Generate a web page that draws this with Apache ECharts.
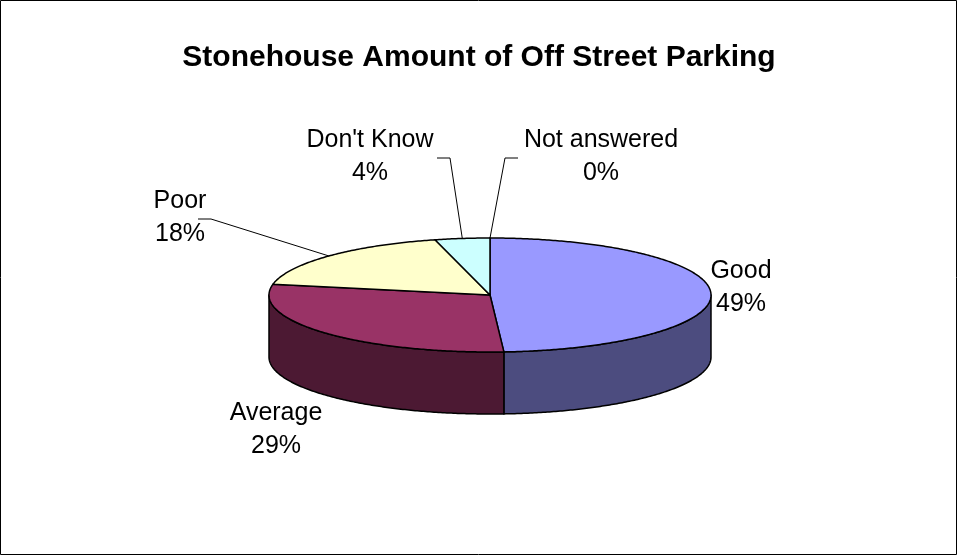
<!DOCTYPE html>
<html>
<head>
<meta charset="utf-8">
<script src="https://cdn.jsdelivr.net/npm/echarts@6/dist/echarts.min.js"></script>
<style>
  html, body { margin: 0; padding: 0; background: #ffffff; }
  #chart { width: 958px; height: 556px; }
</style>
</head>
<body>
<div id="chart"></div>
<script>
// Survey answers and their shares (percent)
const categories = ['Good', 'Average', 'Poor', "Don't Know", 'Not answered'];
const percentages = [49, 29, 18, 4, 0];

// Face colours (top) and darker wall colours (side)
const topColors = ['#9999FF', '#993366', '#FFFFCC', '#CCFFFF', '#FFFF99'];
const sideColors = ['#4C4C7F', '#4C1933', '#7F7F66', '#667F7F', '#7F7F4C'];

// Geometry of the tilted disc
const disc = { cx: 490, cy: 295, rx: 221, ry: 57, depth: 62 };

// Label centres and leader elbows
const labelPlacement = [
  { x: 741, y: 288 },
  { x: 276, y: 430 },
  { x: 180, y: 218, leader: [[198, 219], [211, 219]] },
  { x: 370, y: 157, leader: [[437, 158], [450, 158]] },
  { x: 601, y: 157, leader: [[518, 158], [505, 158]] }
];

const total = percentages.reduce((a, b) => a + b, 0);
const starts = [];
percentages.reduce((acc, v, i) => { starts[i] = acc; return acc + v; }, 0);

function toRad(v) { return v / total * Math.PI * 2; }
function rim(theta, dy) {
  return [disc.cx + disc.rx * Math.sin(theta), disc.cy - disc.ry * Math.cos(theta) + (dy || 0)];
}
function arcPoints(a1, a2, dy) {
  const pts = [];
  const steps = Math.max(2, Math.ceil(Math.abs(a2 - a1) / 0.01));
  for (let k = 0; k <= steps; k++) pts.push(rim(a1 + (a2 - a1) * k / steps, dy));
  return pts;
}

function renderItem(params, api) {
  const i = params.dataIndex;
  const v = api.value(0);
  const a1 = toRad(starts[i]);
  const a2 = toRad(starts[i] + v);
  const children = [];
  const stroke = { stroke: '#000', lineWidth: 1.5, lineJoin: 'round' };

  // front wall (visible between the right and left extremes of the ellipse)
  const s1 = Math.max(a1, Math.PI / 2);
  const s2 = Math.min(a2, Math.PI * 1.5);
  if (v > 0 && s2 > s1) {
    const top = arcPoints(s1, s2, 0);
    const bottom = arcPoints(s2, s1, disc.depth);
    children.push({
      type: 'polygon',
      shape: { points: top.concat(bottom) },
      style: Object.assign({ fill: sideColors[i] }, stroke)
    });
  }

  // top face
  if (v > 0) {
    const pts = [[disc.cx, disc.cy]].concat(arcPoints(a1, a2, 0));
    children.push({
      type: 'polygon',
      shape: { points: pts },
      style: Object.assign({ fill: topColors[i] }, stroke)
    });
  }

  // leader line to the middle of the slice rim
  const place = labelPlacement[i];
  if (place.leader) {
    const mid = rim((a1 + a2) / 2, 0);
    children.push({
      type: 'polyline',
      shape: { points: place.leader.concat([mid]) },
      style: { stroke: '#000', lineWidth: 1, fill: null },
      z2: 5
    });
  }

  // category and percentage label
  children.push({
    type: 'text',
    z2: 10,
    style: {
      x: place.x,
      y: place.y,
      text: categories[i] + '\n' + v + '%',
      fill: '#000',
      font: '25px "Liberation Sans", Arial, sans-serif',
      lineHeight: 33,
      align: 'center',
      verticalAlign: 'middle',
      textAlign: 'center',
      textVerticalAlign: 'middle'
    }
  });

  return { type: 'group', children: children };
}

const chart = echarts.init(document.getElementById('chart'), null, { renderer: 'canvas' });
chart.setOption({
  animation: false,
  backgroundColor: '#ffffff',
  title: {
    text: 'Stonehouse Amount of Off Street Parking',
    left: 'center',
    top: 38,
    textStyle: {
      fontFamily: '"Liberation Sans", Arial, sans-serif',
      fontWeight: 'bold',
      fontSize: 30,
      color: '#000'
    }
  },
  graphic: [{
    type: 'rect',
    shape: { x: 0.5, y: 0.5, width: 956, height: 554 },
    style: { fill: null, stroke: '#000', lineWidth: 1 },
    silent: true
  }],
  series: [{
    type: 'custom',
    coordinateSystem: 'none',
    renderItem: renderItem,
    data: percentages.map((v, i) => ({ name: categories[i], value: [v] }))
  }]
});
</script>
</body>
</html>
